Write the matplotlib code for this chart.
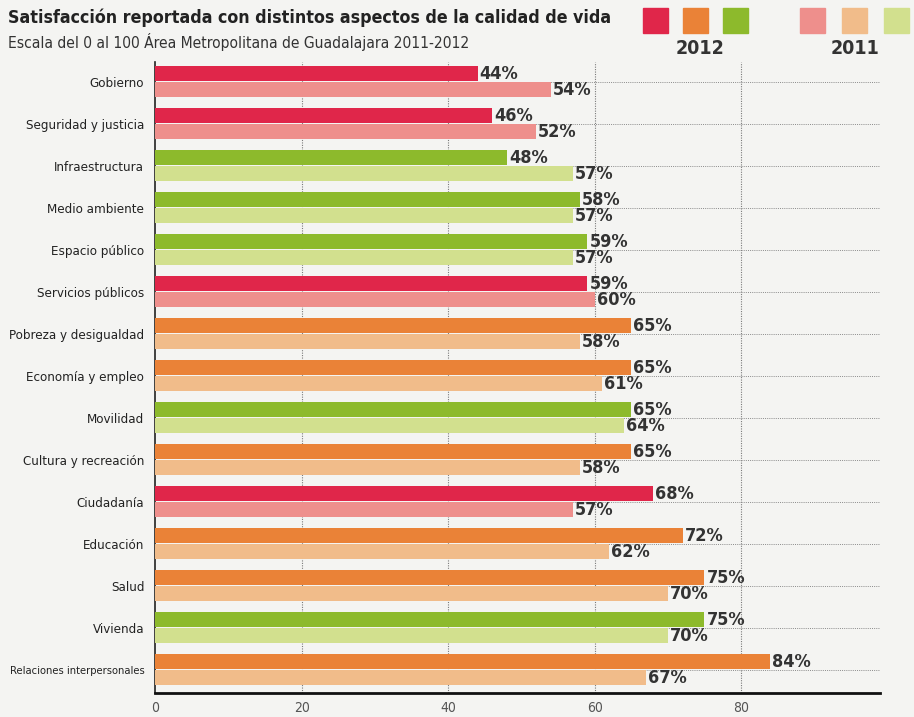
import numpy as np
import matplotlib.pyplot as plt

plt.rcParams["font.family"] = ["DejaVu Sans"]
plt.rcParams["font.stretch"] = "condensed"

categories = ["Gobierno", "Seguridad y justicia", "Infraestructura", "Medio ambiente",
              "Espacio público", "Servicios públicos", "Pobreza y desigualdad",
              "Economía y empleo", "Movilidad", "Cultura y recreación", "Ciudadanía",
              "Educación", "Salud", "Vivienda", "Relaciones interpersonales"]
vals_2012 = [44, 46, 48, 58, 59, 59, 65, 65, 65, 65, 68, 72, 75, 75, 84]
vals_2011 = [54, 52, 57, 57, 57, 60, 58, 61, 64, 58, 57, 62, 70, 70, 67]
groups = ["red", "red", "green", "green", "green", "red", "orange", "orange", "green",
          "orange", "red", "orange", "orange", "green", "orange"]

dark = {"red": "#e0264a", "orange": "#ea8237", "green": "#8dba2c"}
light = {"red": "#ee8f8c", "orange": "#f1bc8a", "green": "#d2e08e"}

bg = "#f4f4f2"
fig = plt.figure(figsize=(9.14, 7.17), dpi=100, facecolor=bg)
ax = fig.add_axes([0.170, 0.034, 0.793, 0.880], facecolor=bg)

y = np.arange(len(categories))
h = 0.36
off = 0.19
ax.barh(y - off, vals_2012, height=h, color=[dark[g] for g in groups], zorder=3)
ax.barh(y + off, vals_2011, height=h, color=[light[g] for g in groups], zorder=3)

for yi, v in zip(y, vals_2012):
    ax.annotate(f"{v}%", (v, yi - off), xytext=(1.5, 0), textcoords="offset points",
                va="center", ha="left", fontsize=13, fontweight="bold", color="#333333")
for yi, v in zip(y, vals_2011):
    ax.annotate(f"{v}%", (v, yi + off), xytext=(1.5, 0), textcoords="offset points",
                va="center", ha="left", fontsize=13, fontweight="bold", color="#333333")

ax.set_xlim(0, 99)
ax.set_ylim(len(categories) - 1 + 0.55, -0.48)
ax.set_yticks(y)
ax.set_yticklabels(categories, fontsize=9.5, color="#222222")
ax.get_yticklabels()[-1].set_fontsize(8)
ax.set_xticks([0, 20, 40, 60, 80])
ax.set_xticklabels(["0", "20", "40", "60", "80"], fontsize=10, color="#555555")
ax.tick_params(length=0, pad=8)
ax.tick_params(axis="x", pad=6)

# grid lines: vertical at ticks, horizontal through each category centre
for xv in [20, 40, 60, 80]:
    ax.axvline(xv, color="#7a7a7a", lw=0.8, ls=(0, (1, 1.2)), zorder=1)
for yc in y:
    ax.axhline(yc, color="#8a8a8a", lw=0.7, ls=(0, (1, 1.2)), zorder=1)

for s in ["top", "right"]:
    ax.spines[s].set_visible(False)
ax.spines["left"].set_color("#222222")
ax.spines["left"].set_linewidth(1.2)
ax.spines["bottom"].set_color("#111111")
ax.spines["bottom"].set_linewidth(2)

# titles
fig.text(0.009, 0.975, "Satisfacción reportada con distintos aspectos de la calidad de vida",
         fontsize=12.8, fontweight="bold", color="#222222", va="center", ha="left")
fig.text(0.009, 0.942, "Escala del 0 al 100 Área Metropolitana de Guadalajara 2011-2012",
         fontsize=11.2, color="#333333", va="center", ha="left")

# legend swatches
sw = 25 / 914
sh = 25 / 717
for i, g in enumerate(["red", "orange", "green"]):
    x0 = (643 + i * 40) / 914
    fig.patches.append(plt.Rectangle((x0, 1 - 33 / 717), sw, sh, color=dark[g],
                                     transform=fig.transFigure, figure=fig))
    x1 = (800 + i * 42) / 914
    fig.patches.append(plt.Rectangle((x1, 1 - 33 / 717), sw, sh, color=light[g],
                                     transform=fig.transFigure, figure=fig))
fig.text(700 / 914, 1 - 48 / 717, "2012", fontsize=14, fontweight="bold",
         color="#333333", ha="center", va="center")
fig.text(855 / 914, 1 - 48 / 717, "2011", fontsize=14, fontweight="bold",
         color="#333333", ha="center", va="center")

fig.savefig("out.png", dpi=100, facecolor=bg)
